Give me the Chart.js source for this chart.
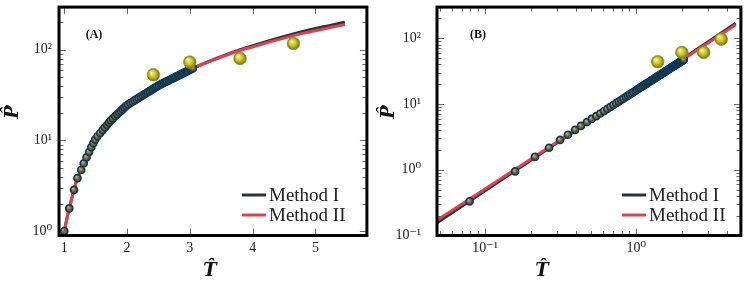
<!DOCTYPE html>
<html>
<head>
<meta charset="utf-8">
<script src="https://cdn.jsdelivr.net/npm/chart.js@4.4.1/dist/chart.umd.min.js"></script>
<style>
  html, body { margin: 0; padding: 0; background: #fff; }
  #wrap { display: flex; width: 748px; height: 283px; }
  canvas { display: block; }
</style>
</head>
<body>
<div id="wrap">
  <canvas id="chartA" width="374" height="283"></canvas>
  <canvas id="chartB" width="374" height="283"></canvas>
</div>
<script>
// --- Panel A: data points (T, P) ---
const aDataT = [1.0, 1.08, 1.155, 1.21, 1.27, 1.31, 1.355, 1.396, 1.43, 1.463, 1.491, 1.529, 1.570, 1.612, 1.648, 1.681, 1.712, 1.740,
  1.774, 1.811, 1.843, 1.874, 1.903, 1.931, 1.957, 1.986, 2.016, 2.051, 2.087, 2.120, 2.152, 2.183, 2.216, 2.246, 2.275, 2.303,
  2.329, 2.358, 2.384, 2.408, 2.434, 2.457, 2.480, 2.506, 2.534, 2.561, 2.588, 2.613, 2.639, 2.667, 2.690, 2.714, 2.738, 2.761,
  2.783, 2.808, 2.830, 2.851, 2.872, 2.892, 2.912, 2.935, 2.955, 2.974, 2.992, 3.011, 3.030, 3.05];
const aDataP = [1.0, 1.78, 2.85, 3.84, 4.72, 5.6, 6.5, 7.45, 8.4, 9.3, 10.2, 11.1, 12.0, 13.0, 13.9, 14.8, 15.7, 16.6,
  17.5, 18.5, 19.4, 20.3, 21.2, 22.1, 23.0, 24.0, 24.9, 25.8, 26.7, 27.6, 28.5, 29.4, 30.4, 31.3, 32.2, 33.1,
  34.0, 35.0, 35.9, 36.8, 37.7, 38.6, 39.5, 40.5, 41.4, 42.3, 43.2, 44.1, 45.0, 46.0, 46.9, 47.8, 48.7, 49.6,
  50.5, 51.5, 52.4, 53.3, 54.2, 55.1, 56.0, 57.0, 57.9, 58.8, 59.7, 60.6, 61.5, 62.5];
const aSimT = [2.42, 3.0, 3.8, 4.65];
const aSimP = [53, 73, 80, 117];
const aM1T = [1.0, 1.04, 1.08, 1.155, 1.21, 1.31, 1.5, 1.75, 2.0, 2.5, 3.05, 3.5, 3.8, 4.2, 4.65, 5.0, 5.47];
const aM1P = [1.0, 1.35, 1.78, 2.85, 3.84, 5.6, 10.5, 16.9, 24.5, 40.3, 62.5, 84, 100, 122, 149, 171, 201];
const aM2T = [1.0, 1.04, 1.08, 1.155, 1.21, 1.31, 1.5, 1.75, 2.0, 2.5, 3.05, 3.5, 3.8, 4.2, 4.65, 5.0, 5.47];
const aM2P = [1.0, 1.35, 1.78, 2.85, 3.84, 5.6, 10.5, 16.9, 24.5, 40.3, 62.3, 83, 98, 118, 143, 162, 190];
const aXTicks = [1, 2, 3, 4, 5];
const aXLabels = ['1', '2', '3', '4', '5'];
const aYTicks = [1, 10, 100];
const aYLabels = ['10⁰', '10¹', '10²'];

// --- Panel B: data points (T, P), log-log ---
const bDataT = [0.079, 0.158, 0.214, 0.265, 0.313, 0.353, 0.394, 0.431, 0.472, 0.508, 0.544, 0.578, 0.611, 0.643, 0.675, 0.705,
  0.736, 0.765, 0.793, 0.821, 0.853, 0.880, 0.906, 0.932, 0.957, 0.987, 1.012, 1.037, 1.061, 1.085, 1.113, 1.137, 1.160,
  1.183, 1.206, 1.229, 1.254, 1.277, 1.299, 1.321, 1.343, 1.368, 1.389, 1.410, 1.431, 1.452, 1.476, 1.497, 1.518, 1.538,
  1.558, 1.581, 1.602, 1.621, 1.641, 1.661, 1.680, 1.703, 1.722, 1.741, 1.760, 1.779, 1.801, 1.820, 1.838, 1.857, 1.875,
  1.896, 1.915, 1.933, 1.951, 1.969, 1.990, 2.008, 2.026, 2.043, 2.061];
const bDataP = [0.331, 0.944, 1.57, 2.16, 2.84, 3.41, 4.05, 4.64, 5.32, 5.94, 6.56, 7.18, 7.80, 8.42, 9.04, 9.66,
  10.3, 10.9, 11.5, 12.1, 12.8, 13.4, 14.0, 14.6, 15.2, 15.9, 16.5, 17.1, 17.7, 18.3, 19.0, 19.6, 20.2,
  20.8, 21.4, 22.0, 22.7, 23.3, 23.9, 24.5, 25.1, 25.8, 26.4, 27.0, 27.6, 28.2, 28.9, 29.5, 30.1, 30.7,
  31.3, 32.0, 32.6, 33.2, 33.8, 34.4, 35.0, 35.7, 36.3, 36.9, 37.5, 38.1, 38.8, 39.4, 40.0, 40.6, 41.2,
  41.9, 42.5, 43.1, 43.7, 44.3, 45.0, 45.6, 46.2, 46.8, 47.4];
const bSimT = [1.385, 2.0, 2.79, 3.64];
const bSimP = [44, 61, 61, 97];
const bM1T = [0.0481, 1.0, 4.54];
const bM1P = [0.156, 16.3, 170];
const bM2T = [0.0481, 1.0, 4.54];
const bM2P = [0.171, 16.2, 161];
const bXTicks = [0.1, 1];
const bXLabels = ['10⁻¹', '10⁰'];
const bYTicks = [0.1, 1, 10, 100];
const bYLabels = ['10⁻¹', '10⁰', '10¹', '10²'];

const DARK = '#28343a';
const RED = '#e0414f';
const SERIF = '"Liberation Serif", "DejaVu Serif", serif';

function zip(xs, ys) {
  const n = Math.min(xs.length, ys.length);
  const out = [];
  for (let i = 0; i < n; i++) out.push({ x: xs[i], y: ys[i] });
  return out;
}

// shaded ball fill, centred on each point through the chart's own scales
function ball(hi, mid, edge, r) {
  return (c) => {
    const chart = c.chart;
    if (c.type !== 'data' || !c.raw || !chart.chartArea) return mid;
    const px = chart.scales.x.getPixelForValue(c.raw.x);
    const py = chart.scales.y.getPixelForValue(c.raw.y);
    const g = chart.ctx.createRadialGradient(px - r * 0.35, py - r * 0.4, 0, px, py, r);
    g.addColorStop(0, hi);
    g.addColorStop(0.55, mid);
    g.addColorStop(1, edge);
    return g;
  };
}

function marks(s) {
  const out = [];
  if (s.type === 'logarithmic') {
    for (let e = Math.floor(Math.log10(s.min)); e <= Math.ceil(Math.log10(s.max)); e++) {
      for (let m = 1; m <= 9; m++) {
        const v = m * Math.pow(10, e);
        if (v >= s.min && v <= s.max) out.push({ v, major: m === 1 });
      }
    }
  } else {
    for (let v = Math.ceil(s.min); v <= s.max; v++) out.push({ v, major: true });
  }
  return out;
}

// inward ticks, frame, panel tag, axis titles, legend
const decor = {
  id: 'decor',
  afterDraw(chart, args, o) {
    const { ctx, chartArea: a, scales: { x, y } } = chart;
    ctx.save();
    ctx.strokeStyle = '#6a6a6a';
    ctx.lineWidth = 1;
    ctx.beginPath();
    for (const m of marks(x)) {
      const px = Math.round(x.getPixelForValue(m.v)) + 0.5;
      const len = m.major ? 7 : 4.5;
      ctx.moveTo(px, a.bottom); ctx.lineTo(px, a.bottom - len);
      ctx.moveTo(px, a.top); ctx.lineTo(px, a.top + len);
    }
    for (const m of marks(y)) {
      const py = Math.round(y.getPixelForValue(m.v)) + 0.5;
      const len = m.major ? 7 : 4.5;
      ctx.moveTo(a.left, py); ctx.lineTo(a.left + len, py);
      ctx.moveTo(a.right, py); ctx.lineTo(a.right - len, py);
    }
    ctx.stroke();

    ctx.strokeStyle = '#000';
    ctx.lineWidth = 3;
    ctx.strokeRect(a.left, a.top, a.right - a.left, a.bottom - a.top);

    ctx.fillStyle = '#111';
    ctx.textAlign = 'center';
    ctx.textBaseline = 'middle';
    ctx.font = 'bold 12px ' + SERIF;
    ctx.fillText(o.panel, o.panelX, o.panelY);

    ctx.font = 'bold italic 18px "DejaVu Serif", serif';
    ctx.fillText('T\u0302', o.tX, o.tY);
    ctx.save();
    ctx.translate(o.pX, o.pY);
    ctx.rotate(-Math.PI / 2);
    ctx.fillText('P\u0302', 0, 0);
    ctx.restore();

    ctx.font = '19px ' + SERIF;
    ctx.textAlign = 'left';
    ['Method I', 'Method II'].forEach((name, i) => {
      const ds = chart.data.datasets.find(d => d.label === name);
      const ly = o.legY + i * 20;
      ctx.strokeStyle = ds.borderColor;
      ctx.lineWidth = 3;
      ctx.beginPath();
      ctx.moveTo(o.legX, ly);
      ctx.lineTo(o.legX + 24, ly);
      ctx.stroke();
      ctx.fillStyle = '#222';
      ctx.fillText(name, o.legX + 27, ly + 1);
    });
    ctx.restore();
  }
};

function noPad(s) {
  s.paddingTop = 0; s.paddingBottom = 0; s.paddingLeft = 0; s.paddingRight = 0;
}

function panel(id, o) {
  const tickFont = { family: SERIF, size: 14 };
  return new Chart(document.getElementById(id), {
    type: 'scatter',
    data: {
      datasets: [
        { label: 'sim', data: zip(o.simT, o.simP), order: 0, pointRadius: 6.3, borderWidth: 0.8,
          borderColor: '#8f8d5a', backgroundColor: ball('#fbf9b4', '#cbc51c', '#767104', 6.3) },
        { label: 'data', data: zip(o.dataT, o.dataP), order: 1, pointRadius: 3.6, borderWidth: 1.5,
          borderColor: '#0d3856', backgroundColor: ball('#cdbd8c', '#7a6a40', '#463a22', 3.6) },
        { label: 'Method II', data: zip(o.m2T, o.m2P), order: 2, showLine: true, pointRadius: 0,
          borderWidth: 3, borderColor: RED, tension: o.tension },
        { label: 'Method I', data: zip(o.m1T, o.m1P), order: 3, showLine: true, pointRadius: 0,
          borderWidth: 3, borderColor: DARK, tension: o.tension }
      ]
    },
    options: {
      responsive: false,
      animation: false,
      events: [],
      layout: { padding: { top: 1.5, right: o.padRight, left: 0, bottom: 0 } },
      plugins: {
        legend: { display: false },
        tooltip: { enabled: false },
        decor: o.decor
      },
      scales: {
        x: {
          type: o.xType, min: o.xMin, max: o.xMax,
          grid: { display: false, drawTicks: false },
          border: { display: false },
          afterBuildTicks: s => { s.ticks = o.xTicks.map(v => ({ value: v })); },
          afterFit: s => { s.height = 47.5; noPad(s); },
          ticks: { autoSkip: false, maxRotation: 0, padding: 4, color: '#222', font: tickFont,
                   callback: (v, i) => o.xLabels[i] }
        },
        y: {
          type: 'logarithmic', min: o.yMin, max: o.yMax,
          grid: { display: false, drawTicks: false },
          border: { display: false },
          afterBuildTicks: s => { s.ticks = o.yTicks.map(v => ({ value: v })); },
          afterFit: s => { s.width = o.yWidth; noPad(s); },
          ticks: { autoSkip: false, padding: o.yPad, color: '#222', font: tickFont,
                   callback: (v, i) => o.yLabels[i] }
        }
      }
    },
    plugins: [decor]
  });
}

panel('chartA', {
  dataT: aDataT, dataP: aDataP, simT: aSimT, simP: aSimP,
  m1T: aM1T, m1P: aM1P, m2T: aM2T, m2P: aM2P, tension: 0.3,
  xType: 'linear', xMin: 0.916, xMax: 5.82, yMin: 0.895, yMax: 295,
  xTicks: aXTicks, xLabels: aXLabels, yTicks: aYTicks, yLabels: aYLabels,
  yWidth: 59, yPad: 7, padRight: 7,
  decor: { panel: '(A)', panelX: 94, panelY: 35, tX: 210, tY: 271, pX: 13, pY: 112, legX: 242, legY: 195 }
});

panel('chartB', {
  dataT: bDataT, dataP: bDataP, simT: bSimT, simP: bSimP,
  m1T: bM1T, m1P: bM1P, m2T: bM2T, m2P: bM2P, tension: 0,
  xType: 'logarithmic', xMin: 0.0481, xMax: 4.915, yMin: 0.1, yMax: 298,
  xTicks: bXTicks, xLabels: bXLabels, yTicks: bYTicks, yLabels: bYLabels,
  yWidth: 63, yPad: 16, padRight: 3,
  decor: { panel: '(B)', panelX: 104, panelY: 35, tX: 168, tY: 271, pX: 15, pY: 112, legX: 248, legY: 195 }
});
</script>
</body>
</html>
